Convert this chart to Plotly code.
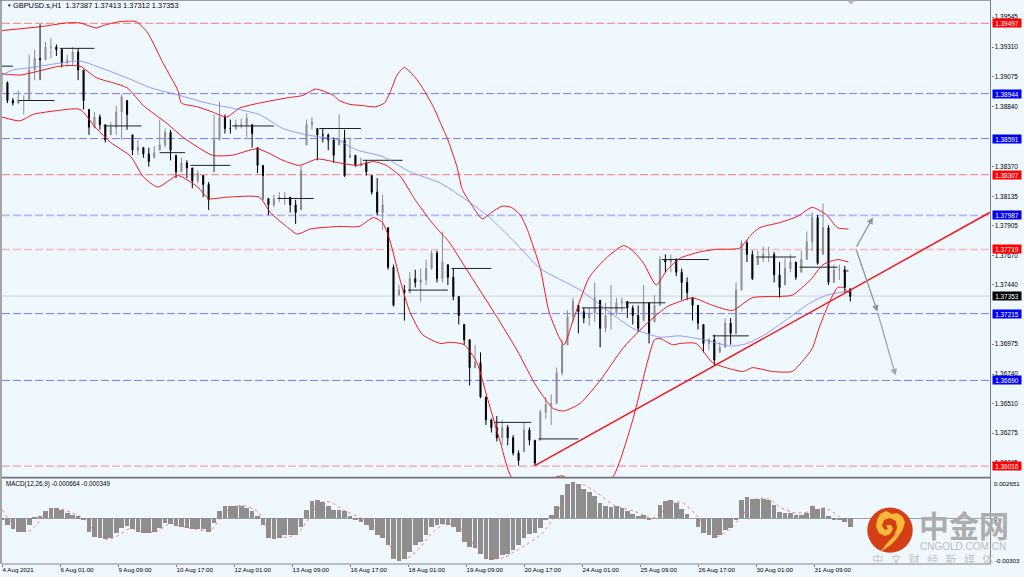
import plotly.graph_objects as go
from plotly.subplots import make_subplots

W, H = 1024, 577

# --- Candles, one sample every third hour bar, prices in 1/10000 ---
close_pts = [13903,13889,13887,13889,13889,13913,13922,13921,13931,13931,13929,13919,13921,13927,13913,13889,13868,13876,13870,13858,
13868,13880,13892,13878,13850,13852,13847,13841,13848,13854,13864,13850,13833,13840,13836,13826,13832,13823,13811,13858,
13876,13867,13867,13870,13870,13875,13863,13838,13830,13807,13812,13813,13813,13807,13801,13834,13870,13872,13862,13862,
13858,13846,13858,13830,13846,13838,13840,13833,13817,13801,13807,13758,13728,13740,13738,13749,13746,13748,13757,13769,
13749,13762,13750,13735,13720,13701,13679,13683,13656,13638,13632,13624,13632,13624,13612,13606,13630,13622,13604,13644,
13650,13651,13675,13697,13719,13731,13723,13718,13722,13734,13710,13720,13722,13730,13731,13726,13720,13710,13730,13706,
13728,13764,13762,13764,13754,13746,13738,13728,13714,13698,13701,13685,13695,13714,13706,13740,13777,13768,13749,13765,
13768,13768,13752,13742,13757,13762,13750,13764,13778,13797,13761,13789,13746,13756,13756,13742,13735]
high_pts = [13911,13904,13891,13897,13893,13925,13929,13949,13935,13938,13933,13930,13925,13931,13930,13913,13882,13880,13878,13870,
13872,13885,13894,13889,13862,13858,13852,13852,13853,13874,13867,13866,13846,13844,13842,13836,13834,13830,13825,13878,
13888,13878,13874,13874,13875,13879,13870,13852,13838,13812,13815,13817,13817,13813,13811,13838,13874,13876,13867,13867,
13863,13860,13878,13866,13860,13846,13844,13842,13830,13828,13815,13789,13760,13744,13744,13754,13756,13757,13764,13771,
13771,13786,13760,13757,13735,13713,13701,13697,13691,13656,13639,13641,13638,13634,13626,13614,13636,13632,13622,13646,
13656,13658,13679,13701,13724,13734,13728,13726,13726,13746,13732,13730,13744,13734,13734,13731,13728,13728,13744,13730,
13736,13767,13768,13768,13765,13757,13750,13734,13728,13713,13702,13705,13699,13718,13718,13746,13779,13779,13771,13771,
13774,13774,13770,13762,13765,13768,13762,13771,13786,13801,13799,13808,13791,13760,13760,13759,13741]
low_pts = [13896,13887,13885,13886,13878,13889,13905,13905,13921,13922,13924,13915,13916,13917,13905,13882,13862,13867,13866,13856,
13862,13862,13858,13866,13846,13846,13844,13837,13844,13850,13852,13842,13828,13833,13828,13820,13824,13813,13803,13833,
13858,13863,13863,13866,13867,13860,13852,13832,13811,13799,13805,13809,13807,13801,13792,13803,13854,13866,13842,13856,
13850,13840,13854,13829,13844,13837,13837,13830,13815,13799,13787,13756,13727,13736,13716,13738,13742,13731,13744,13756,
13746,13746,13744,13732,13713,13697,13665,13679,13655,13634,13628,13621,13618,13618,13610,13602,13613,13618,13602,13622,
13639,13634,13650,13673,13697,13715,13706,13714,13712,13715,13695,13707,13709,13720,13723,13718,13713,13707,13716,13698,
13715,13728,13754,13754,13751,13732,13732,13716,13709,13691,13693,13681,13691,13695,13697,13705,13740,13762,13748,13760,
13762,13762,13746,13734,13744,13754,13748,13754,13764,13771,13760,13768,13744,13746,13748,13738,13731]
macd_hist_e6 = [-75,-500,-825,-1000,-1000,-500,75,175,500,750,750,575,375,250,125,-125,-1000,-1375,-1450,-1550,-1500,-1125,-750,-575,-825,
-1025,-1125,-1075,-1000,-750,-325,-425,-575,-675,-750,-800,-800,-825,-1000,-375,500,925,925,925,925,750,500,125,-500,-1500,
-1575,-1500,-1250,-1250,-1250,-625,625,1250,1325,1200,875,575,575,500,125,-125,-250,-500,-875,-1250,-1500,-2000,-3000,-3175,-3000,
-2500,-2000,-1750,-1250,-625,-500,-425,-500,-625,-1000,-1750,-2125,-2250,-2625,-3000,-3075,-3000,-2750,-2625,-2375,-2000,-1500,-1175,-1125,-750,
-125,250,875,1750,2500,2675,2500,2125,1925,1625,1125,925,825,875,750,500,325,175,250,-75,0,1000,1250,1325,1125,
675,325,0,-625,-1125,-1250,-1450,-1250,-875,-750,-125,1375,1575,1425,1425,1425,1325,1000,425,375,375,250,250,375,925,
675,750,125,-125,-175,-250,-664]

# --- Bollinger bands and moving average, read at the bars where they bend ---
upper_bar = [0,21,36,43,52,56,65,74,80,89,97,99,108,116,124,131,142,157,166,173,183,186,192,199,206,211,214,218,222,228,232,238,242,246,251,254,260,265,270,276,281,286,290,292,297,302,310,315,324,334,343,348,354,361,367,374,385,394,407,413,418,429,439,447,455,461,467]
upper_pts = [13944,13947,13950,13950,13946,13948,13951,13951,13943,13918,13897,13887,13884,13880,13876,13883,13887,13891,13893,13898,13893,13889,13886,13885,13884,13887,13895,13909,13915,13907,13899,13884,13871,13858,13837,13819,13805,13796,13801,13806,13805,13799,13787,13779,13757,13722,13697,13716,13750,13766,13775,13771,13761,13744,13756,13765,13770,13772,13773,13783,13789,13793,13798,13805,13799,13789,13788]
mid_bar = [0,10,17,32,43,52,69,78,91,100,116,127,141,155,164,174,186,196,205,212,220,227,235,242,246,260,273,284,295,304,310,319,330,343,356,367,374,381,392,403,414,429,436,446,453,461,467]
mid_pts = [13910,13909,13911,13916,13916,13907,13899,13885,13871,13860,13846,13846,13851,13842,13838,13843,13840,13838,13841,13838,13829,13813,13797,13785,13779,13748,13719,13693,13664,13647,13645,13651,13669,13695,13714,13727,13731,13734,13728,13724,13734,13735,13736,13748,13760,13764,13762]
lower_bar = [0,10,17,30,43,52,60,71,78,86,97,108,114,124,142,148,157,163,170,186,197,205,210,214,220,225,232,242,247,255,262,268,275,281,289,299,309,324,337,348,356,360,363,370,374,383,392,402,409,414,425,436,441,447,451,457,461,464,467]
lower_pts = [13876,13873,13878,13881,13882,13867,13856,13845,13829,13821,13830,13821,13812,13813,13813,13801,13790,13784,13788,13790,13790,13797,13793,13779,13746,13723,13705,13698,13699,13697,13683,13654,13620,13593,13587,13589,13594,13579,13593,13638,13683,13701,13702,13697,13698,13698,13683,13678,13676,13679,13676,13676,13683,13694,13711,13732,13742,13742,13738]
ma_bar = [0,6,17,30,43,54,72,82,98,113,127,142,155,168,186,188,196,210,225,242,258,269,282,297,319,334,348,363,374,387,402,411,422,435,446,455,466]
ma_pts = [13909,13913,13915,13918,13920,13915,13905,13899,13893,13887,13883,13878,13867,13862,13858,13856,13850,13845,13833,13824,13809,13797,13779,13757,13740,13724,13710,13703,13704,13701,13696,13698,13706,13719,13730,13736,13739]
signal_bar = [0,4,10,15,19,23,28,34,41,46,52,58,63,71,78,85,93,98,107,115,120,126,133,141,146,152,159,164,170,175,181,188,198,207,216,223,231,238,245,253,262,271,277,281,289,298,305,313,320,327,338,349,359,370,375,383,394,401,408,416,423,430,438,447,454,462,467]
signal_e6 = [625,-125,-925,-950,-500,125,675,625,250,-125,-1125,-1575,-1375,-750,-1050,-1000,-375,-575,-825,-925,-125,750,950,500,-625,-1375,-1375,-1000,125,1125,1200,625,0,-750,-2375,-3000,-2125,-1000,-375,-750,-2250,-3000,-2925,-2625,-2000,-1125,125,1875,2500,2000,925,500,0,1125,1175,250,-1375,-875,125,1425,1425,750,375,500,750,125,-349]

# --- Daily open stubs ---
stub_start = [0,9,32,56,87,104,127,152,175,199,224,248,272,296,320,344,364,392,416,440,464]
stub_end = [6,29,51,77,101,126,150,172,198,221,246,270,292,318,344,366,390,412,438,461,467]
stub_pts = [13916,13889,13930,13869,13848,13838,13869,13812,13867,13842,13740,13757,13636,13623,13726,13730,13764,13704,13766,13758,13755]

# --- Horizontal levels ---
level_price = [1.39497,1.38944,1.38591,1.38307,1.37987,1.37719,1.37215,1.36690,1.36016]
level_label = ["1.39497","1.38944","1.38591","1.38307","1.37987","1.37719","1.37215","1.36690","1.36016"]
level_kind = ["r","b","b","r","b2","r2","b","b","r2"]
last_price = 1.37353

# --- Trend line and projected arrows ---
trend_bar = [294,545]
trend_pts = [13602,13801]
arrow_bars = [471,480.5,483,493]
arrow_pts = [13773,13797,13723,13673]

# --- Axis labels ---
y_ticks = [1.39545,1.39310,1.39075,1.38840,1.38370,1.38135,1.37905,1.37670,1.37440,1.36975,1.36740,1.36510,1.36275,1.36045]
x_tick_bars = [0,32,64,96,128,160,192,224,256,288,320,352,384,416,448]
x_tick_text = ["4 Aug 2021","6 Aug 01:00","9 Aug 09:00","10 Aug 17:00","12 Aug 01:00","13 Aug 09:00","16 Aug 17:00","18 Aug 01:00","19 Aug 09:00","20 Aug 17:00","24 Aug 01:00","25 Aug 09:00","26 Aug 17:00","30 Aug 01:00","31 Aug 09:00"]
title_text = "GBPUSD.s,H1  1.37387 1.37413 1.37312 1.37353"
macd_text = "MACD(12,26,9) -0.000664 -0.000349"

BG = "#f0f8ff"
FONT = "Liberation Sans"
P = lambda v: [p / 10000 for p in v]
E = lambda v: [p / 1e6 for p in v]

bars = [3 * i for i in range(len(close_pts))]
closes = P(close_pts); highs = P(high_pts); lows = P(low_pts)
opens = [min(max(c, l), h) for c, l, h in zip([closes[0]] + closes[:-1], lows, highs)]

PX_LEFT, PX_RIGHT = 2.0, 990.5
MAIN_BOTTOM, MACD_TOP, MACD_BOTTOM = 477.0, 479.0, 564.0
fx = lambda px: px / W
fy = lambda py: 1 - py / H

fig = make_subplots(rows=2, cols=1, shared_xaxes=True)

fig.add_trace(go.Candlestick(x=bars, open=opens, high=highs, low=lows, close=closes,
    increasing=dict(line=dict(color="#8c8c8c", width=1), fillcolor="#a8a8a8"),
    decreasing=dict(line=dict(color="#000000", width=1), fillcolor="#000000"),
    whiskerwidth=0, showlegend=False, hoverinfo="skip"), row=1, col=1)

stub_x, stub_y = [], []
for s, e, p in zip(stub_start, stub_end, P(stub_pts)):
    stub_x += [s, e, None]; stub_y += [p, p, None]
fig.add_trace(go.Scatter(x=stub_x, y=stub_y, mode="lines", line=dict(color="#202020", width=1), showlegend=False), row=1, col=1)

for bx, by in [(upper_bar, upper_pts), (mid_bar, mid_pts), (lower_bar, lower_pts)]:
    fig.add_trace(go.Scatter(x=bx, y=P(by), mode="lines", line=dict(color="#f01818", width=1.0, shape="spline", smoothing=0.6), showlegend=False), row=1, col=1)
fig.add_trace(go.Scatter(x=ma_bar, y=P(ma_pts), mode="lines", line=dict(color="#7f7fff", width=0.8, shape="spline", smoothing=0.6), showlegend=False), row=1, col=1)
fig.add_trace(go.Scatter(x=trend_bar, y=P(trend_pts), mode="lines", line=dict(color="#f01818", width=1.5), showlegend=False), row=1, col=1)

fig.add_trace(go.Bar(x=bars, y=E(macd_hist_e6), width=2.6, marker=dict(color="#8e8e8e", line_width=0), showlegend=False), row=2, col=1)
fig.add_trace(go.Scatter(x=signal_bar, y=E(signal_e6), mode="lines", line=dict(color="#f06060", width=0.8, dash="dot", shape="spline", smoothing=0.6), showlegend=False), row=2, col=1)

shapes = []
styles = {"r": ("#f47a7a", 1), "b": ("#7a7aff", 1), "r2": ("#f7b8bc", 1.6), "b2": ("#b4b4ff", 1.6)}
for p, k in zip(level_price, level_kind):
    c, w = styles[k]
    shapes.append(dict(type="line", xref="x domain", yref="y", x0=0, x1=1, y0=p, y1=p, layer="below", line=dict(color=c, width=w, dash="8px,3px")))
shapes.append(dict(type="line", xref="x domain", yref="y", x0=0, x1=1, y0=last_price, y1=last_price, layer="below", line=dict(color="#cfd2d6", width=1)))

# frame
frame = "#7e8288"
def rect(x0, y0, x1, y1, c):
    return dict(type="rect", xref="paper", yref="paper", x0=fx(x0), x1=fx(x1), y0=fy(y0), y1=fy(y1), fillcolor=c, line_width=0, layer="above")
shapes += [rect(0, 0, 2, 564, "#a4a6a8"), rect(0, 0, 990, 0.8, frame), rect(2, 476.8, 990.5, 478.6, "#707478"),
           rect(990, 0, 991, 564, frame), rect(2, 563.6, 991, 564.5, frame)]

# watermark logo
def path(pts, close=True):
    s = "M" + " L".join(f"{fx(a):.5f},{fy(b):.5f}" for a, b in pts)
    return s + (" Z" if close else "")
shapes.append(dict(type="circle", xref="paper", yref="paper", x0=fx(867.3), x1=fx(912.7), y0=fy(507.5), y1=fy(552.8), fillcolor="#d63e16", line_width=0, layer="above"))
swirl = [(880,552),(885,549),(892,544),(898,537),(903,529),(905,522),(902,516),(897,513),(892,514),(886,511),(880,514),(877,520),(876,527),(879,533),(885,536),(890,534),(893,529),(891,525),(886,525),(888,529),(885,530),(882,526),(884,520),(890,518),(896,521),(897,528),(894,536),(888,542)]
shapes.append(dict(type="path", xref="paper", yref="paper", path=path(swirl), fillcolor="#f6b93a", line_width=0, layer="above"))

# the small marker on the top edge
shapes.append(dict(type="path", xref="paper", yref="paper", path=path([(847,0.5),(855,0.5),(851,4.5)]), fillcolor="#b8b8b8", line_width=0, layer="above"))

anns = []
def txt(px, py, s, size, color="#000000", anchor="left", family=FONT, **kw):
    anns.append(dict(xref="paper", yref="paper", x=fx(px), y=fy(py), text=s, showarrow=False, xanchor=anchor, yanchor="middle",
                     font=dict(size=size, color=color, family=family), **kw))
txt(11, 5.5, title_text, 7.4)
txt(4, 483.5, macd_text, 6.3)
txt(5, 5.5, "▼", 4.5)
txt(992, 483.5, "0.002651", 6.2)
txt(992, 518.5, "0", 6.2)
txt(993, 560, "-0.00303", 6.2)

# right side level tags
tag_fill = {"r": "#ff0000", "r2": "#ff0000", "b": "#0000f0", "b2": "#0000f0"}
for p, lab, k in zip(level_price, level_label, level_kind):
    anns.append(dict(xref="paper", yref="y", x=fx(991.5), y=p, text=lab, showarrow=False, xanchor="left", yanchor="middle",
                     font=dict(size=6.4, color="#ffffff", family=FONT), bgcolor=tag_fill[k], width=28, height=8, borderpad=0, align="center"))
anns.append(dict(xref="paper", yref="y", x=fx(991.5), y=last_price, text="1.37353", showarrow=False, xanchor="left", yanchor="middle",
                 font=dict(size=6.4, color="#ffffff", family=FONT), bgcolor="#000000", width=28, height=8, borderpad=0, align="center"))

# projected arrows
ab = arrow_bars; ap = P(arrow_pts)
arrow_style = dict(xref="x", yref="y", axref="x", ayref="y", text="", showarrow=True, arrowhead=2, arrowsize=1, arrowwidth=1.3, arrowcolor="#8f9498")
anns.append(dict(x=ab[1], y=ap[1], ax=ab[0], ay=ap[0], **arrow_style))
anns.append(dict(x=ab[2], y=ap[2], ax=ab[0], ay=ap[0], **arrow_style))
anns.append(dict(x=ab[3], y=ap[3], ax=ab[2], ay=ap[2], **{**arrow_style, "arrowcolor": "#a2a6aa"}))

# watermark text
CJK = "Noto Sans CJK SC"
txt(917, 524, "<b>中金网</b>", 30, "#adadad", family=CJK)
txt(918, 546, "CNGOLD.COM.CN", 10, "#bcbcbc", family="Liberation Sans")
txt(870, 559, "中 &nbsp;&nbsp;文 &nbsp;&nbsp;财 &nbsp;&nbsp;经 &nbsp;&nbsp;新 &nbsp;&nbsp;媒 &nbsp;&nbsp;体", 11, "#c4c4c4", family=CJK)

fig.update_layout(width=W, height=H, margin=dict(l=0, r=0, t=0, b=0), paper_bgcolor=BG, plot_bgcolor=BG,
                  showlegend=False, shapes=shapes, annotations=anns, bargap=0, boxgap=0.72,
                  hovermode=False, dragmode=False, font=dict(family=FONT, size=6.4, color="#000000"))

x_range = [(0), (PX_RIGHT - PX_LEFT) / 1.8125]
x_domain = [fx(PX_LEFT), fx(PX_RIGHT)]
fig.update_xaxes(domain=x_domain, range=x_range, showgrid=False, zeroline=False, rangeslider=dict(visible=False))
fig.update_xaxes(row=1, col=1, showticklabels=False, ticks="")
fig.update_xaxes(row=2, col=1, tickmode="array", tickvals=x_tick_bars, ticktext=x_tick_text, ticks="outside", ticklen=2, tickcolor=frame,
                 ticklabelposition="outside right", tickfont=dict(size=6.2, family=FONT), showline=False)

main_top_pts, main_bot_pts = 1.39680, 1.39680 - 477 * 7.86e-5
fig.update_yaxes(row=1, col=1, domain=[fy(MAIN_BOTTOM), 1], range=[main_bot_pts, main_top_pts], side="right", showgrid=False, zeroline=False,
                 tickmode="array", tickvals=y_ticks, ticktext=[f"{v:.5f}" for v in y_ticks], ticks="outside", ticklen=2, tickcolor=frame,
                 tickfont=dict(size=6.4, family=FONT), showline=False)
fig.update_yaxes(row=2, col=1, domain=[fy(MACD_BOTTOM), fy(MACD_TOP)], range=[-0.00340, 0.00290], side="right", showgrid=False, zeroline=True,
                 zerolinecolor="#a0a0a0", zerolinewidth=1, showticklabels=False, ticks="", showline=False)

fig.write_html("out.html", config=dict(displayModeBar=False), post_script="document.body.style.margin='0';document.body.style.background='#f0f8ff';")
